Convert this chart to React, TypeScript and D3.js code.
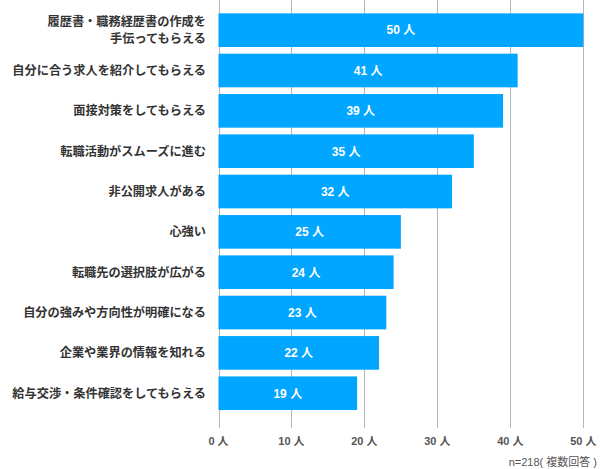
import React from "react";
import * as d3 from "d3";

const categories: string[][] = [
  ["履歴書・職務経歴書の作成を", "手伝ってもらえる"],
  ["自分に合う求人を紹介してもらえる"],
  ["面接対策をしてもらえる"],
  ["転職活動がスムーズに進む"],
  ["非公開求人がある"],
  ["心強い"],
  ["転職先の選択肢が広がる"],
  ["自分の強みや方向性が明確になる"],
  ["企業や業界の情報を知れる"],
  ["給与交渉・条件確認をしてもらえる"],
];
const values: number[] = [50, 41, 39, 35, 32, 25, 24, 23, 22, 19];
const ticks: number[] = [0, 10, 20, 30, 40, 50];
const unit = "人";
const note = "n=218( 複数回答 )";

const W = 600;
const H = 469;
const FONT = "'Liberation Sans', Arial, 'Noto Sans CJK JP', sans-serif";
const BAR = "#00a6ff";

export default function App() {
  const x = d3.scaleLinear().domain([0, 50]).range([218.5, 583.3]);
  const y = d3
    .scaleBand<number>()
    .domain(d3.range(values.length))
    .range([10, 413.4])
    .paddingInner(0.166)
    .paddingOuter(0.083);

  return (
    <svg
      width={W}
      height={H}
      style={{ position: "absolute", left: 0, top: 0, fontFamily: FONT }}
    >
      <rect x={0} y={0} width={W} height={H} fill="#fff" />
      {ticks.map((t) => (
        <line
          key={"g" + t}
          x1={Math.round(x(t)) + 0.5}
          x2={Math.round(x(t)) + 0.5}
          y1={0}
          y2={428}
          stroke="#b5b5b5"
          strokeWidth={1}
        />
      ))}
      {values.map((v, i) => {
        const by = y(i)!;
        const bh = y.bandwidth();
        const cy = by + bh / 2;
        const lines = categories[i];
        const lh = 17;
        return (
          <g key={i}>
            <rect x={x(0)} y={by} width={x(v) - x(0)} height={bh} fill={BAR} />
            <text
              x={(x(0) + x(v)) / 2}
              y={cy}
              dy="0.36em"
              textAnchor="middle"
              fill="#fff"
              fontWeight="bold"
              fontSize={12}
            >
              {v} {unit}
            </text>
            {lines.map((l, k) => (
              <text
                key={k}
                x={206}
                y={cy + (k - (lines.length - 1) / 2) * lh}
                dy="0.36em"
                textAnchor="end"
                fill="#333"
                fontWeight="bold"
                fontSize={12.2}
              >
                {l}
              </text>
            ))}
          </g>
        );
      })}
      {ticks.map((t) => (
        <text
          key={"t" + t}
          x={x(t)}
          y={441}
          dy="0.36em"
          textAnchor="middle"
          fill="#555"
          fontWeight="bold"
          fontSize={11}
        >
          {t} {unit}
        </text>
      ))}
      <text
        x={597}
        y={462}
        dy="0.36em"
        textAnchor="end"
        fill="#555"
        fontSize={11}
      >
        {note}
      </text>
    </svg>
  );
}
